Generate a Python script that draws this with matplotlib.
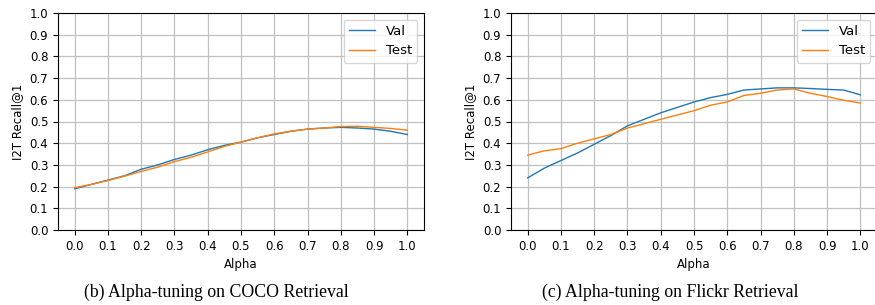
import matplotlib
matplotlib.use("Agg")
import matplotlib.pyplot as plt
import numpy as np

alpha = [0.0, 0.05, 0.1, 0.15, 0.2, 0.25, 0.3, 0.35, 0.4, 0.45, 0.5,
         0.55, 0.6, 0.65, 0.7, 0.75, 0.8, 0.85, 0.9, 0.95, 1.0]

coco_val = [0.190, 0.210, 0.230, 0.250, 0.280, 0.300, 0.325, 0.345, 0.370, 0.390, 0.405,
            0.425, 0.440, 0.455, 0.465, 0.470, 0.473, 0.470, 0.465, 0.455, 0.440]
coco_test = [0.195, 0.210, 0.228, 0.248, 0.270, 0.290, 0.315, 0.335, 0.360, 0.385, 0.405,
             0.425, 0.443, 0.455, 0.465, 0.470, 0.477, 0.478, 0.473, 0.468, 0.460]

flickr_val = [0.240, 0.285, 0.320, 0.355, 0.395, 0.435, 0.480, 0.510, 0.540, 0.565, 0.590,
              0.610, 0.625, 0.645, 0.650, 0.655, 0.655, 0.652, 0.648, 0.645, 0.623]
flickr_test = [0.345, 0.365, 0.375, 0.400, 0.420, 0.440, 0.470, 0.490, 0.510, 0.530, 0.550,
               0.575, 0.590, 0.620, 0.630, 0.645, 0.650, 0.630, 0.615, 0.598, 0.585]

ticks = [0.0, 0.1, 0.2, 0.3, 0.4, 0.5, 0.6, 0.7, 0.8, 0.9, 1.0]
captions = ["(b) Alpha-tuning on COCO Retrieval", "(c) Alpha-tuning on Flickr Retrieval"]
caption_x = [216/875, 670/875]

fig = plt.figure(figsize=(8.75, 3.05), dpi=100)
positions = [[58/875, 1-230/305, 366/875, 217/305],
             [511/875, 1-230/305, 366/875, 217/305]]
data = [(coco_val, coco_test), (flickr_val, flickr_test)]
fs = 8.5
for pos, (v, t), cap, cx in zip(positions, data, captions, caption_x):
    ax = fig.add_axes(pos)
    ax.plot(alpha, v, color="#1f77b4", lw=1.0, label="Val")
    ax.plot(alpha, t, color="#ff7f0e", lw=1.0, label="Test")
    ax.set_ylim(0, 1.0)
    ax.set_xlim(-0.05, 1.05)
    ax.set_xticks(ticks)
    ax.set_xticklabels([f"{x:.1f}" for x in ticks])
    ax.set_yticks(ticks)
    ax.set_yticklabels([f"{x:.1f}" for x in ticks])
    ax.tick_params(labelsize=fs)
    ax.grid(True, color="#c0c0c0", lw=0.9)
    ax.set_xlabel("Alpha", fontsize=fs)
    ax.set_ylabel("I2T Recall@1", fontsize=fs)
    ax.legend(loc="upper right", fontsize=9.5)
    fig.text(cx, 1-292/305, cap, ha="center", va="center",
             fontsize=12.8, family="Liberation Serif")

fig.savefig("out.png", dpi=100)
